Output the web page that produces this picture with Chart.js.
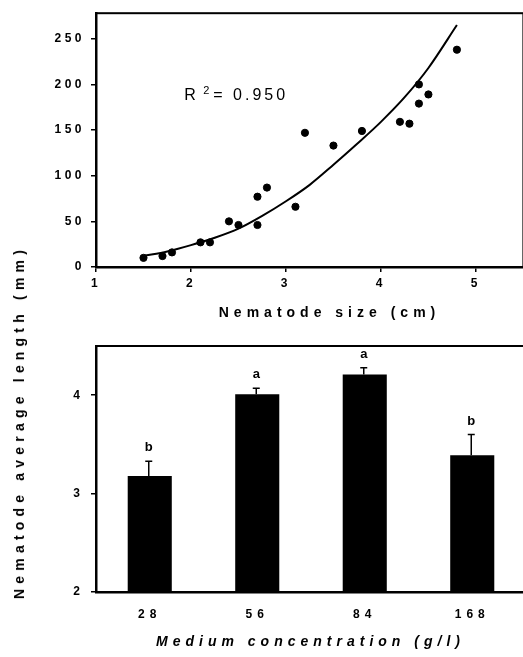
<!doctype html>
<html style="height:100%;">
<head>
    <meta name="viewport" content="width=device-width, initial-scale=1.0" />
</head>
<body style="margin:0;position:absolute;top:0;bottom:0;left:0;right:0;overflow:hidden;background:#fff;">
    <div style="position:absolute;left:0;top:0;width:528px;height:325px;">
        <canvas id="sizeChart" width="528" height="325"></canvas>
    </div>
    <div style="position:absolute;left:0;top:325px;width:528px;height:332px;">
        <canvas id="concChart" width="528" height="332"></canvas>
    </div>
    <div style="position:absolute;left:19px;top:422px;transform:translate(-50%,-50%) rotate(-90deg);font:bold 14px Arial, 'Liberation Sans', sans-serif;letter-spacing:5.2px;white-space:nowrap;color:#000;">Nematode average length (mm)</div>

    <script src="https://cdn.jsdelivr.net/npm/chart.js@4/dist/chart.umd.min.js"></script>
    <script>
        // top panel: nematode size vs length
        const sizeX = [1.5, 1.7, 1.8, 2.1, 2.2, 2.4, 2.5, 2.7, 2.7, 2.8, 3.1, 3.2, 3.5, 3.8, 4.2, 4.3, 4.4, 4.4, 4.5, 4.8];
        const lengthY = [10, 12, 16, 27, 27, 50, 46, 46, 77, 87, 66, 147, 133, 149, 159, 157, 200, 179, 189, 238];
        // fitted curve
        const fitX = [1.5, 1.75, 2, 2.25, 2.5, 2.75, 3, 3.25, 3.5, 3.75, 4, 4.25, 4.5, 4.8];
        const fitY = [12, 17, 24, 32, 42, 56, 72, 90, 112, 135, 159, 186, 218, 265];
        const sizeTicks = [1, 2, 3, 4, 5];
        const lengthTicks = [0, 50, 100, 150, 200, 250];

        // bottom panel: medium concentration
        const concLabels = ['28', '56', '84', '168'];
        const meanLen = [3.18, 4.01, 4.21, 3.39];
        const errLen = [0.15, 0.06, 0.07, 0.21];
        const groupLetters = ['b', 'a', 'a', 'b'];
        const meanTicks = [2, 3, 4];

        const FONT = "Arial, 'Liberation Sans', sans-serif";

        const boxPlugin = {
            id: 'box',
            beforeDraw(chart, args, opts) {
                chart.ctx.letterSpacing = opts.tickSpacing || '4px';
            },
            afterDraw(chart, args, opts) {
                const ctx = chart.ctx;
                const a = chart.chartArea;
                ctx.save();
                ctx.letterSpacing = '0px';
                ctx.strokeStyle = '#000';
                ctx.lineWidth = 2;
                ctx.strokeRect(a.left, a.top, a.right - a.left, a.bottom - a.top);
                // axis title
                ctx.fillStyle = '#000';
                ctx.font = opts.titleFont;
                ctx.letterSpacing = '5px';
                ctx.textAlign = 'center';
                ctx.textBaseline = 'middle';
                ctx.fillText(opts.title, opts.titleX + 2.5, opts.titleY);
                ctx.restore();
                ctx.letterSpacing = '0px';
            }
        };

        const r2Plugin = {
            id: 'r2',
            afterDatasetsDraw(chart) {
                const ctx = chart.ctx;
                const x = chart.scales.x.getPixelForValue(1.93);
                const y = chart.scales.y.getPixelForValue(183);
                ctx.save();
                ctx.letterSpacing = '0px';
                ctx.fillStyle = '#000';
                ctx.textBaseline = 'alphabetic';
                ctx.textAlign = 'left';
                ctx.font = '16px ' + FONT;
                ctx.fillText('R', x, y);
                ctx.font = '11px ' + FONT;
                ctx.fillText('2', x + 19, y - 6);
                ctx.font = '16px ' + FONT;
                ctx.letterSpacing = '3px';
                ctx.fillText('= 0.950', x + 29, y);
                ctx.restore();
            }
        };

        const errPlugin = {
            id: 'errbars',
            afterDatasetsDraw(chart) {
                const ctx = chart.ctx;
                const meta = chart.getDatasetMeta(0);
                const ys = chart.scales.y;
                ctx.save();
                ctx.letterSpacing = '0px';
                ctx.strokeStyle = '#000';
                ctx.fillStyle = '#000';
                ctx.lineWidth = 1.5;
                ctx.font = 'bold 13px ' + FONT;
                ctx.textAlign = 'center';
                ctx.textBaseline = 'alphabetic';
                meta.data.forEach((bar, i) => {
                    const top = ys.getPixelForValue(meanLen[i] + errLen[i]);
                    const cx = bar.x - 1;
                    ctx.beginPath();
                    ctx.moveTo(cx, bar.y);
                    ctx.lineTo(cx, top);
                    ctx.moveTo(cx - 3.5, top);
                    ctx.lineTo(cx + 3.5, top);
                    ctx.stroke();
                    ctx.fillText(groupLetters[i], cx, top - 10);
                });
                ctx.restore();
            }
        };

        const tickGrid = { display: true, drawOnChartArea: false, drawTicks: true, tickLength: 5, color: '#000', lineWidth: 1.5 };
        const axisBorder = { display: true, color: '#000', width: 2.5 };

        new Chart(document.getElementById('sizeChart').getContext('2d'), {
            data: {
                datasets: [{
                    type: 'scatter',
                    data: sizeX.map((x, i) => ({ x: x, y: lengthY[i] })),
                    backgroundColor: '#000',
                    borderColor: '#000',
                    pointRadius: 3.6,
                    pointHoverRadius: 3.6
                }, {
                    type: 'line',
                    data: fitX.map((x, i) => ({ x: x, y: fitY[i] })),
                    borderColor: '#000',
                    borderWidth: 2,
                    pointRadius: 0,
                    cubicInterpolationMode: 'monotone',
                    fill: false
                }]
            },
            options: {
                responsive: false,
                animation: false,
                layout: { padding: { top: 9, right: 2, left: 0, bottom: 0 } },
                plugins: {
                    legend: { display: false },
                    tooltip: { enabled: false },
                    box: { title: 'Nematode size (cm)', titleFont: 'bold 14px ' + FONT, titleX: 327, titleY: 313, tickSpacing: '3.5px' }
                },
                scales: {
                    x: {
                        type: 'linear',
                        min: 1, max: 5.5,
                        afterFit(s) { s.height = 58; },
                        afterBuildTicks(s) { s.ticks = sizeTicks.map(v => ({ value: v })); },
                        grid: tickGrid,
                        border: axisBorder,
                        ticks: { color: '#000', font: { family: FONT, size: 12, weight: 'bold' }, padding: 4, maxRotation: 0 }
                    },
                    y: {
                        min: 0, max: 278,
                        afterFit(s) { s.width = 96; },
                        afterBuildTicks(s) { s.ticks = lengthTicks.map(v => ({ value: v })); },
                        grid: tickGrid,
                        border: axisBorder,
                        ticks: { color: '#000', font: { family: FONT, size: 12, weight: 'bold' }, padding: 6 }
                    }
                }
            },
            plugins: [boxPlugin, r2Plugin]
        });

        new Chart(document.getElementById('concChart').getContext('2d'), {
            type: 'bar',
            data: {
                labels: concLabels,
                datasets: [{
                    data: meanLen,
                    backgroundColor: '#000',
                    borderWidth: 0,
                    barPercentage: 0.41,
                    categoryPercentage: 1
                }]
            },
            options: {
                responsive: false,
                animation: false,
                layout: { padding: { top: 21, right: 2, left: 0, bottom: 0 } },
                plugins: {
                    legend: { display: false },
                    tooltip: { enabled: false },
                    box: { title: 'Medium concentration (g/l)', titleFont: 'italic bold 14px ' + FONT, titleX: 308, titleY: 317, tickSpacing: '5px' }
                },
                scales: {
                    x: {
                        afterFit(s) { s.height = 65; },
                        grid: { display: false },
                        border: axisBorder,
                        ticks: { color: '#000', font: { family: FONT, size: 12, weight: 'bold' }, padding: 7, maxRotation: 0 }
                    },
                    y: {
                        min: 2, max: 4.5,
                        afterFit(s) { s.width = 96; },
                        afterBuildTicks(s) { s.ticks = meanTicks.map(v => ({ value: v })); },
                        grid: tickGrid,
                        border: axisBorder,
                        ticks: { color: '#000', font: { family: FONT, size: 12, weight: 'bold' }, padding: 6 }
                    }
                }
            },
            plugins: [boxPlugin, errPlugin]
        });
    </script>
</body>
</html>
